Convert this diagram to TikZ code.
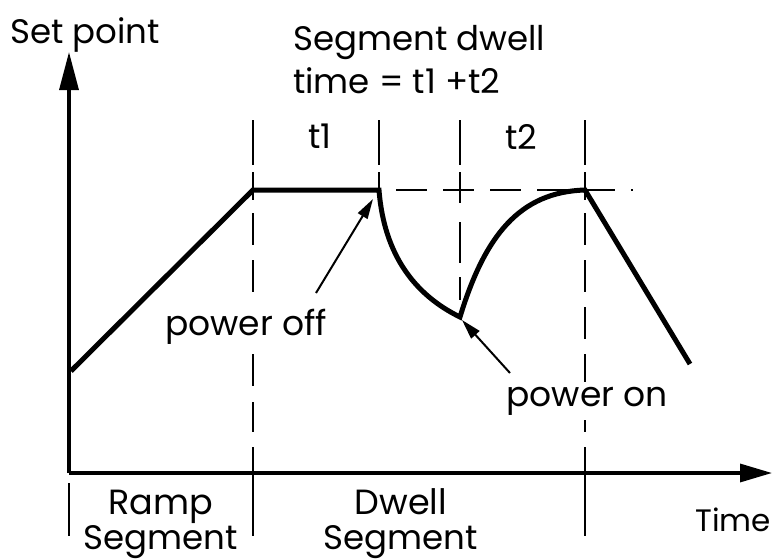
\documentclass[tikz,border=0pt]{standalone}
\usepackage{fontspec}
\setmainfont{Poppins}
\usetikzlibrary{arrows.meta}
\begin{document}
\begin{tikzpicture}[x=1pt,y=-1pt,
  curve/.style={line width=5pt,line join=miter},
  axis/.style={line width=3.3pt},
  guide/.style={line width=2.2pt},
  tick/.style={line width=2.2pt},
  pointer/.style={line width=2pt,-{Triangle[length=20pt,width=11pt]}},
  lbl/.style={inner sep=0pt,font=\fontsize{34}{40}\selectfont},
  big/.style={lbl,font=\fontsize{35}{42}\selectfont},
  small/.style={lbl,font=\fontsize{31}{36}\selectfont},
  clr/.style={lbl,fill=white,inner sep=5pt,font=\fontsize{34.5}{40}\selectfont}]
\useasboundingbox (0,0) rectangle (772,560);
% guide lines
\draw[guide,dash pattern=on 45pt off 7pt on 28pt off 13pt on 32pt off 15pt on 32pt off 15pt on 32pt off 15pt on 32pt off 16pt on 30pt off 15pt on 89pt off 100pt] (253,120) -- (253,536);
\draw[guide,dash pattern=on 45pt off 7pt on 28pt off 13pt on 32pt off 15pt on 32pt off 15pt on 32pt off 15pt on 32pt off 16pt on 30pt off 15pt on 89pt off 100pt] (585,120) -- (585,536);
\draw[guide,dash pattern=on 45pt off 7pt on 18pt off 100pt] (379,120) -- (379,190);
\draw[guide,dash pattern=on 45pt off 7pt on 31pt off 19pt on 41pt off 14pt on 23pt off 100pt] (460,120) -- (460,300);
\draw[guide,dash pattern=on 31pt off 16pt] (396,190) -- (633,190);
\draw[tick] (69,483) -- (69,536);
% axes
\coordinate (origin) at (69,473);
\coordinate (ytip) at (69,52);
\coordinate (xtip) at (772,473);
\draw[axis,-{Triangle[length=38pt,width=19pt]}] (origin) -- (ytip);
\draw[axis,-{Triangle[length=32pt,width=18pt]}] (origin) -- (xtip);
% set point profile
\coordinate (p0) at (71,371);
\coordinate (p1) at (253,190);
\coordinate (p2) at (379,190);
\coordinate (p3) at (460,317);
\coordinate (p4) at (585,190);
\coordinate (p5) at (690,364);
\draw[curve] (p0) -- (p1) -- (p2) .. controls (384,255) and (415,295) .. (p3)
  .. controls (485,235) and (520,192) .. (p4) -- (p5);
% labels
\node[lbl,anchor=base west] (sp) at (10,43) {Set point};
\node[lbl,anchor=base west] (sd1) at (293,50) {Segment dwell};
\node[lbl,anchor=base west] (sd2) at (293,93) {time = t1 +t2};
\node[lbl,anchor=base] (t1) at (320,148) {t1};
\node[lbl,anchor=base] (t2) at (521,149) {t2};
\node[clr,anchor=base] (poff) at (246,335) {power off};
\node[clr,anchor=base] (pon) at (587,406) {power on};
\node[big,anchor=base] (ramp) at (161,514) {Ramp};
\node[lbl,anchor=base] (rseg) at (161,549) {Segment};
\node[big,anchor=base] (dwell) at (401,514) {Dwell};
\node[lbl,anchor=base] (dseg) at (401,549) {Segment};
\node[small,anchor=base east] (time) at (771,531) {Time};
% pointers
\coordinate (offtail) at (316,293);
\coordinate (offtip) at (373,199);
\coordinate (ontail) at (510,373);
\coordinate (ontip) at (462,320);
\draw[pointer] (offtail) -- (offtip);
\draw[pointer] (ontail) -- (ontip);
\end{tikzpicture}
\end{document}
